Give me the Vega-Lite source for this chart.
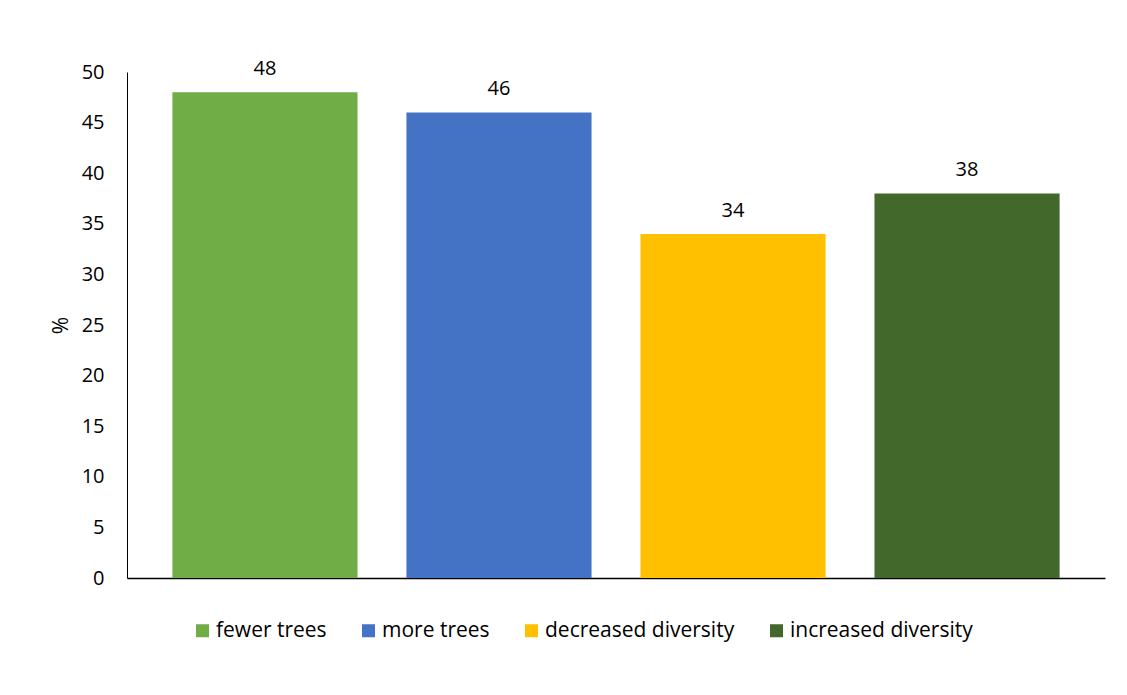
{
  "$schema": "https://vega.github.io/schema/vega-lite/v6.json",
  "autosize": "none",
  "width": 978,
  "height": 506,
  "padding": {"left": 127, "top": 72, "right": 22, "bottom": 117},
  "background": "white",
  "config": {
    "view": {"stroke": null},
    "font": "Open Sans",
    "axis": {"labelFont": "Open Sans", "titleFont": "Open Sans", "labelColor": "#000000", "titleColor": "#000000"},
    "legend": {"labelFont": "Open Sans"}
  },
  "data": {
    "values": [
      {"category": "fewer trees", "value": 48},
      {"category": "more trees", "value": 46},
      {"category": "decreased diversity", "value": 34},
      {"category": "increased diversity", "value": 38}
    ]
  },
  "encoding": {
    "x": {
      "field": "category",
      "type": "nominal",
      "sort": null,
      "scale": {"paddingInner": 0.209, "paddingOuter": 0.194},
      "axis": {"title": null, "labels": false, "ticks": false, "domainColor": "#000000", "domainWidth": 1.5}
    },
    "y": {
      "field": "value",
      "type": "quantitative",
      "scale": {"domain": [0, 50], "nice": false},
      "axis": {
        "title": "%",
        "titleFontSize": 21,
        "titleFontWeight": "normal",
        "titlePadding": 10,
        "values": [0, 5, 10, 15, 20, 25, 30, 35, 40, 45, 50],
        "labelFontSize": 20,
        "labelPadding": 23,
        "ticks": false,
        "grid": false,
        "domainColor": "#000000",
        "domainWidth": 1
      }
    }
  },
  "layer": [
    {
      "mark": {"type": "bar"},
      "encoding": {
        "color": {
          "field": "category",
          "type": "nominal",
          "sort": null,
          "scale": {
            "domain": ["fewer trees", "more trees", "decreased diversity", "increased diversity"],
            "range": ["#70AD47", "#4472C4", "#FFC000", "#43682B"]
          },
          "legend": {
            "title": null,
            "orient": "none",
            "direction": "horizontal",
            "legendX": 65,
            "legendY": 548,
            "padding": 0,
            "symbolType": "square",
            "symbolSize": 169,
            "symbolStrokeWidth": 0,
            "symbolOpacity": 1,
            "labelFontSize": 21,
            "labelLimit": 400,
            "labelColor": "#000000",
            "labelOffset": 3,
            "columnPadding": 31
          }
        }
      }
    },
    {
      "mark": {"type": "text", "baseline": "alphabetic", "dy": -17, "fontSize": 20, "color": "#000000", "font": "Open Sans"},
      "encoding": {"text": {"field": "value", "type": "quantitative"}}
    }
  ]
}
